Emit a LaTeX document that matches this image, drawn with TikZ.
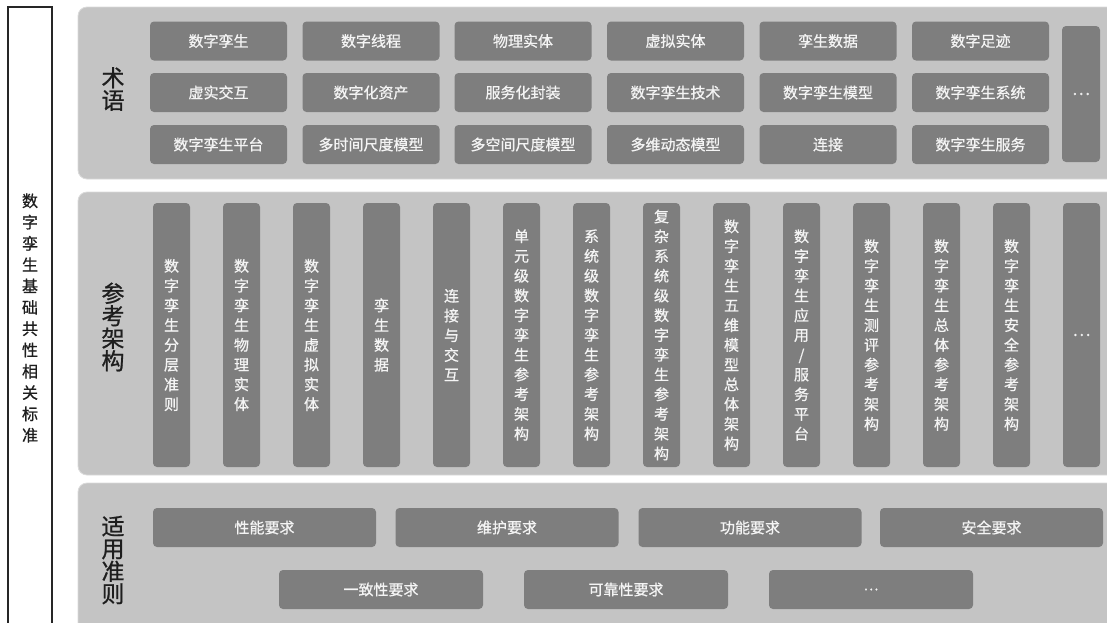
\documentclass[tikz,border=0pt]{standalone}
\usepackage{fontspec}
\setmainfont{Noto Sans CJK SC}[FakeBold=0.8]
\definecolor{panelc}{HTML}{C4C4C4}
\definecolor{paneledge}{HTML}{DADADA}
\definecolor{boxc}{HTML}{7E7E7E}
\definecolor{boxtxt}{HTML}{F4F4F4}
\definecolor{labtxt}{HTML}{1E1E1E}
\tikzset{
  panelbox/.style={fill=panelc, draw=paneledge, line width=0.8pt, rounded corners=9pt},
  basebox/.style={fill=boxc, rounded corners=4pt, inner sep=0pt, text=boxtxt},
  hbox/.style={basebox, minimum width=137pt, minimum height=39pt, font=\fontsize{15}{18}\selectfont},
  dotfont/.style={font=\fontsize{17}{18}\selectfont},
  dotbox/.style={basebox, minimum width=38pt, minimum height=136pt, dotfont},
  vbox/.style={basebox, minimum width=37pt, minimum height=264pt, align=center, font=\fontsize{15}{19.75}\selectfont},
  wbox/.style={basebox, minimum width=223pt, minimum height=39pt, font=\fontsize{15}{18}\selectfont},
  nbox/.style={basebox, minimum width=204pt, minimum height=39pt, font=\fontsize{15}{18}\selectfont},
  seclabel/.style={align=center, inner sep=0pt, text=labtxt, font=\fontsize{23}{22.5}\selectfont},
  sidelabel/.style={align=center, inner sep=0pt, text=labtxt, font=\fontsize{16}{21.3}\selectfont}
}
\begin{document}
\begin{tikzpicture}[x=1pt,y=-1pt]
\useasboundingbox (0,0) rectangle (1107,622);
\begin{scope}
\clip (0,0) rectangle (1107,622);
% left frame
\fill[white] (8,7) rectangle (52,630);
\draw[line width=1.3pt, black!85] (8,630) -- (8,7) -- (52,7) -- (52,630);
% panels
\path[panelbox] (78,7) rectangle (1125,179);
\path[panelbox] (78,192) rectangle (1125,475);
\path[panelbox] (78,483) rectangle (1125,640);
\end{scope}

\node[sidelabel] (side) at (30,318) {数\\字\\孪\\生\\基\\础\\共\\性\\相\\关\\标\\准};

% section labels
\node[seclabel] (lab1) at (113,89) {术\\语};
\node[seclabel] (lab2) at (113,327) {参\\考\\架\\构};
\node[seclabel] (lab3) at (113,560) {适\\用\\准\\则};

% terms
\node[hbox] (t11) at (218.5,41) {数字孪生};
\node[hbox] (t12) at (371,41) {数字线程};
\node[hbox] (t13) at (523,41) {物理实体};
\node[hbox] (t14) at (675.5,41) {虚拟实体};
\node[hbox] (t15) at (828,41) {孪生数据};
\node[hbox] (t16) at (980.5,41) {数字足迹};
\node[hbox] (t21) at (218.5,92.5) {虚实交互};
\node[hbox] (t22) at (371,92.5) {数字化资产};
\node[hbox] (t23) at (523,92.5) {服务化封装};
\node[hbox] (t24) at (675.5,92.5) {数字孪生技术};
\node[hbox] (t25) at (828,92.5) {数字孪生模型};
\node[hbox] (t26) at (980.5,92.5) {数字孪生系统};
\node[hbox] (t31) at (218.5,144.5) {数字孪生平台};
\node[hbox] (t32) at (371,144.5) {多时间尺度模型};
\node[hbox] (t33) at (523,144.5) {多空间尺度模型};
\node[hbox] (t34) at (675.5,144.5) {多维动态模型};
\node[hbox] (t35) at (828,144.5) {连接};
\node[hbox] (t36) at (980.5,144.5) {数字孪生服务};
\node[dotbox] (tdots) at (1081,94) {…};

% reference architecture
\node[vbox] (r1) at (171.5,335) {数\\字\\孪\\生\\分\\层\\准\\则};
\node[vbox] (r2) at (241.5,335) {数\\字\\孪\\生\\物\\理\\实\\体};
\node[vbox] (r3) at (311.5,335) {数\\字\\孪\\生\\虚\\拟\\实\\体};
\node[vbox] (r4) at (381.5,335) {孪\\生\\数\\据};
\node[vbox] (r5) at (451.5,335) {连\\接\\与\\交\\互};
\node[vbox] (r6) at (521.5,335) {单\\元\\级\\数\\字\\孪\\生\\参\\考\\架\\构};
\node[vbox] (r7) at (591.5,335) {系\\统\\级\\数\\字\\孪\\生\\参\\考\\架\\构};
\node[vbox] (r8) at (661.5,335) {复\\杂\\系\\统\\级\\数\\字\\孪\\生\\参\\考\\架\\构};
\node[vbox] (r9) at (731.5,335) {数\\字\\孪\\生\\五\\维\\模\\型\\总\\体\\架\\构};
\node[vbox] (r10) at (801.5,335) {数\\字\\孪\\生\\应\\用\\/\\服\\务\\平\\台};
\node[vbox] (r11) at (871.5,335) {数\\字\\孪\\生\\测\\评\\参\\考\\架\\构};
\node[vbox] (r12) at (941.5,335) {数\\字\\孪\\生\\总\\体\\参\\考\\架\\构};
\node[vbox] (r13) at (1011.5,335) {数\\字\\孪\\生\\安\\全\\参\\考\\架\\构};
\node[vbox, dotfont] (r14) at (1081.5,335) {…};

% applicable criteria
\node[wbox] (a11) at (264.5,527.5) {性能要求};
\node[wbox] (a12) at (507,527.5) {维护要求};
\node[wbox] (a13) at (750,527.5) {功能要求};
\node[wbox] (a14) at (991.5,527.5) {安全要求};
\node[nbox] (a21) at (381,589.5) {一致性要求};
\node[nbox] (a22) at (626,589.5) {可靠性要求};
\node[nbox, font=\fontsize{14}{16}\selectfont] (a23) at (871,589.5) {…};
\end{tikzpicture}
\end{document}
